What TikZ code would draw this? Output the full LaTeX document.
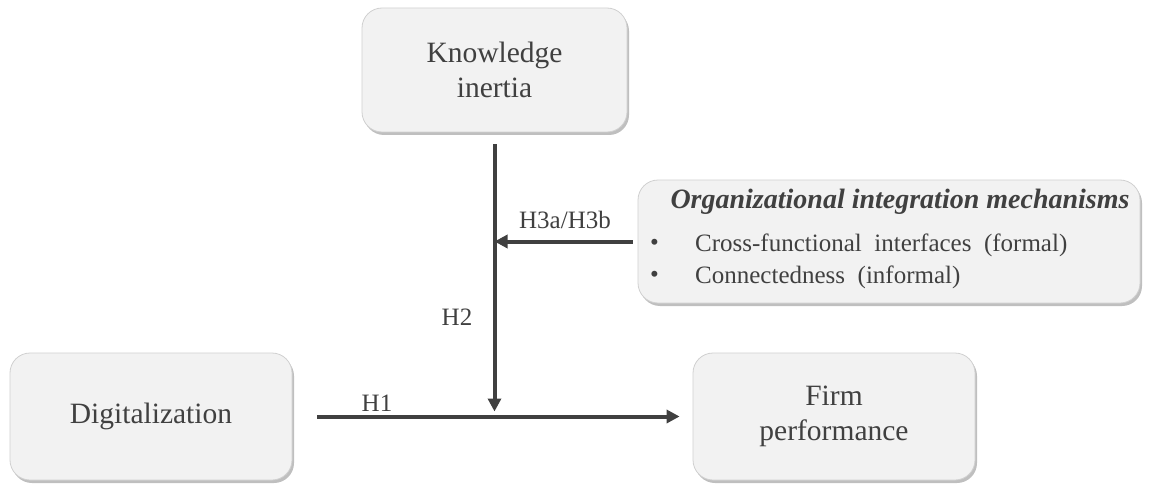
\documentclass[tikz,border=0pt]{standalone}
\usepackage{fontspec}
\setmainfont{Liberation Serif}
\usetikzlibrary{arrows.meta,shadows}
\definecolor{boxfill}{HTML}{F2F2F2}
\definecolor{boxline}{HTML}{D0D0D0}
\definecolor{ink}{HTML}{404040}
\tikzset{
  cbox/.style={draw=boxline, line width=0.8pt, fill=boxfill, rounded corners=20pt,
    drop shadow={shadow xshift=2pt, shadow yshift=-3pt, fill=black, opacity=0.25},
    inner sep=0pt, text=ink, align=center, font=\fontsize{29.5}{35.5}\selectfont},
  arr/.style={draw=ink, line width=4pt, -{Triangle[length=13pt,width=13pt]}},
  lbl/.style={text=ink, inner sep=0pt, font=\fontsize{25}{30}\selectfont},
}
\begin{document}
\begin{tikzpicture}[x=1pt,y=-1pt]
\useasboundingbox (0,0) rectangle (1159,484);
\node[cbox, minimum width=265pt, minimum height=124pt] (ki) at (494.5,70) {Knowledge\\inertia};
\node[cbox, minimum width=502pt, minimum height=123pt] (org) at (889,241.5) {};
\node[cbox, minimum width=282pt, minimum height=127pt] (dig) at (151,416.5) {Digitalization};
\node[cbox, minimum width=282pt, minimum height=127pt] (firm) at (834,416.5) {Firm\\performance};
% org box content
\node[lbl, font=\fontsize{28}{32}\selectfont\bfseries\itshape] (orgt) at (900,202) {Organizational integration mechanisms};
\node[lbl, anchor=west] (b1) at (650,245) {\textbullet};
\node[lbl, anchor=west] (i1) at (695,245) {Cross-functional\ \ interfaces\ \ (formal)};
\node[lbl, anchor=west] (b2) at (650,277) {\textbullet};
\node[lbl, anchor=west] (i2) at (695,277) {Connectedness\ \ (informal)};
% connectors
\coordinate (m) at (ki.south |- dig.east);
\coordinate (h3) at (ki.south |- org.west);
\draw[arr] ([xshift=25pt]dig.east) -- ([xshift=-13pt]firm.west);
\draw[arr] ([yshift=-12pt]ki.south) -- ([yshift=5pt]m);
\draw[arr] ([xshift=-5pt]org.west) -- (h3);
% labels
\node[lbl] (lh1) at (377,403) {H1};
\node[lbl] (lh2) at (457,317) {H2};
\node[lbl] (lh3) at (565,220) {H3a/H3b};
\end{tikzpicture}
\end{document}
